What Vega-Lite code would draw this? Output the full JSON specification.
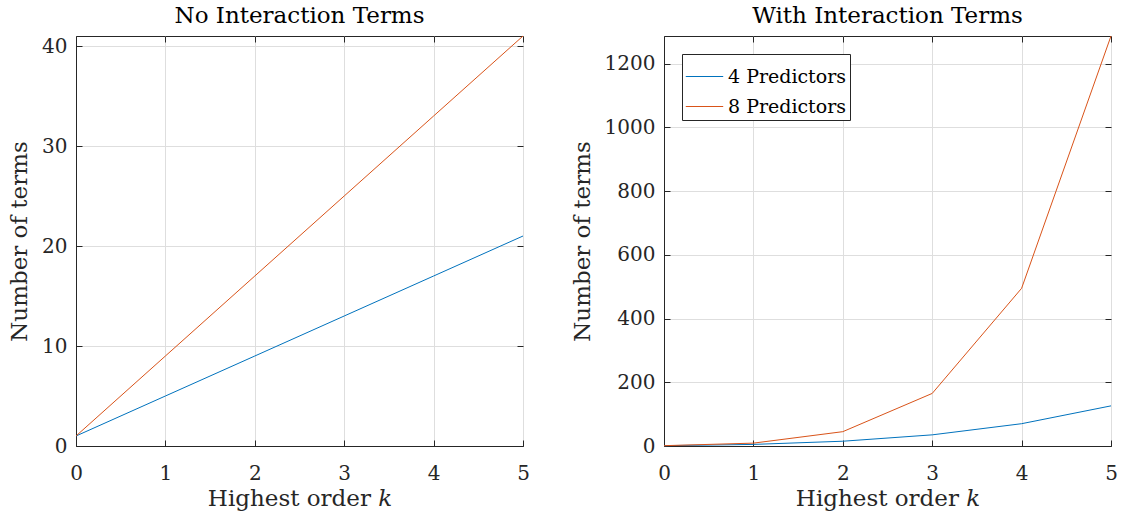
{
  "$schema": "https://vega.github.io/schema/vega-lite/v6.json",
  "background": "white",
  "padding": {"left": 8, "top": 4, "right": 5, "bottom": 5},
  "datasets": {
    "noint": [
      {"k": 0, "series": "4 Predictors", "terms": 1},
      {"k": 1, "series": "4 Predictors", "terms": 5},
      {"k": 2, "series": "4 Predictors", "terms": 9},
      {"k": 3, "series": "4 Predictors", "terms": 13},
      {"k": 4, "series": "4 Predictors", "terms": 17},
      {"k": 5, "series": "4 Predictors", "terms": 21},
      {"k": 0, "series": "8 Predictors", "terms": 1},
      {"k": 1, "series": "8 Predictors", "terms": 9},
      {"k": 2, "series": "8 Predictors", "terms": 17},
      {"k": 3, "series": "8 Predictors", "terms": 25},
      {"k": 4, "series": "8 Predictors", "terms": 33},
      {"k": 5, "series": "8 Predictors", "terms": 41}
    ],
    "withint": [
      {"k": 0, "series": "4 Predictors", "terms": 1},
      {"k": 1, "series": "4 Predictors", "terms": 5},
      {"k": 2, "series": "4 Predictors", "terms": 15},
      {"k": 3, "series": "4 Predictors", "terms": 35},
      {"k": 4, "series": "4 Predictors", "terms": 70},
      {"k": 5, "series": "4 Predictors", "terms": 126},
      {"k": 0, "series": "8 Predictors", "terms": 1},
      {"k": 1, "series": "8 Predictors", "terms": 9},
      {"k": 2, "series": "8 Predictors", "terms": 45},
      {"k": 3, "series": "8 Predictors", "terms": 165},
      {"k": 4, "series": "8 Predictors", "terms": 495},
      {"k": 5, "series": "8 Predictors", "terms": 1287}
    ]
  },
  "config": {
    "font": "DejaVu Serif",
    "view": {"stroke": "#262626", "strokeWidth": 1},
    "title": {"fontSize": 23, "fontWeight": "normal", "color": "#000000", "font": "DejaVu Serif", "offset": 6},
    "axis": {
      "labelFont": "DejaVu Serif",
      "titleFont": "DejaVu Serif",
      "labelFontSize": 20,
      "titleFontSize": 23,
      "titleFontWeight": "normal",
      "labelColor": "#262626",
      "titleColor": "#262626",
      "domainColor": "#262626",
      "tickColor": "#262626",
      "gridColor": "#dedede",
      "gridWidth": 1
    }
  },
  "resolve": {"legend": {"color": "independent"}, "scale": {"color": "independent"}},
  "spacing": 40,
  "hconcat": [
    {
      "title": "No Interaction Terms",
      "width": 447,
      "height": 410,
      "data": {"name": "noint"},
      "resolve": {"axis": {"x": "independent", "y": "independent"}},
      "layer": [
        {
          "mark": {"type": "line", "strokeWidth": 1},
          "encoding": {
            "x": {"field": "k", "type": "quantitative", "scale": {"domain": [0, 5], "nice": false},
                  "axis": {"title": "Highest order 𝑘", "values": [0, 1, 2, 3, 4, 5], "format": "d", "tickSize": -6, "labelPadding": 23, "titlePadding": 4, "labelFlush": false}},
            "y": {"field": "terms", "type": "quantitative", "scale": {"domain": [0, 41], "nice": false, "zero": true},
                  "axis": {"title": "Number of terms", "values": [0, 10, 20, 30, 40], "tickSize": -6, "labelPadding": 15, "titlePadding": 10, "labelFlush": false}},
            "color": {"field": "series", "type": "nominal", "scale": {"domain": ["4 Predictors", "8 Predictors"], "range": ["#0072BD", "#D95319"]}, "legend": null}
          }
        },
        {
          "mark": {"type": "line", "strokeWidth": 1, "strokeOpacity": 0},
          "encoding": {
            "x": {"field": "k", "type": "quantitative",
                  "axis": {"orient": "top", "title": null, "labels": false, "grid": false, "domain": false, "values": [0, 1, 2, 3, 4, 5], "tickSize": -6}},
            "y": {"field": "terms", "type": "quantitative",
                  "axis": {"orient": "right", "title": null, "labels": false, "grid": false, "domain": false, "values": [0, 10, 20, 30, 40], "tickSize": -6}},
            "detail": {"field": "series", "type": "nominal"}
          }
        }
      ]
    },
    {
      "title": "With Interaction Terms",
      "width": 447,
      "height": 410,
      "data": {"name": "withint"},
      "resolve": {"axis": {"x": "independent", "y": "independent"}},
      "layer": [
        {
          "mark": {"type": "line", "strokeWidth": 1},
          "encoding": {
            "x": {"field": "k", "type": "quantitative", "scale": {"domain": [0, 5], "nice": false},
                  "axis": {"title": "Highest order 𝑘", "values": [0, 1, 2, 3, 4, 5], "format": "d", "tickSize": -6, "labelPadding": 23, "titlePadding": 4, "labelFlush": false}},
            "y": {"field": "terms", "type": "quantitative", "scale": {"domain": [0, 1287], "nice": false, "zero": true},
                  "axis": {"title": "Number of terms", "values": [0, 200, 400, 600, 800, 1000, 1200], "format": "d", "tickSize": -6, "labelPadding": 15, "titlePadding": 10, "labelFlush": false}},
            "color": {"field": "series", "type": "nominal", "scale": {"domain": ["4 Predictors", "8 Predictors"], "range": ["#0072BD", "#D95319"]},
                      "legend": {"title": null, "orient": "top-left", "offset": 18, "padding": 3, "fillColor": "white", "strokeColor": "#262626",
                                 "symbolType": "stroke", "symbolSize": 1400, "symbolStrokeWidth": 1, "labelFontSize": 19, "labelFont": "DejaVu Serif", "labelColor": "#000000", "rowPadding": 0, "labelOffset": 4}}
          }
        },
        {
          "mark": {"type": "line", "strokeWidth": 1, "strokeOpacity": 0},
          "encoding": {
            "x": {"field": "k", "type": "quantitative",
                  "axis": {"orient": "top", "title": null, "labels": false, "grid": false, "domain": false, "values": [0, 1, 2, 3, 4, 5], "tickSize": -6}},
            "y": {"field": "terms", "type": "quantitative",
                  "axis": {"orient": "right", "title": null, "labels": false, "grid": false, "domain": false, "values": [0, 200, 400, 600, 800, 1000, 1200], "tickSize": -6}},
            "detail": {"field": "series", "type": "nominal"}
          }
        }
      ]
    }
  ]
}
